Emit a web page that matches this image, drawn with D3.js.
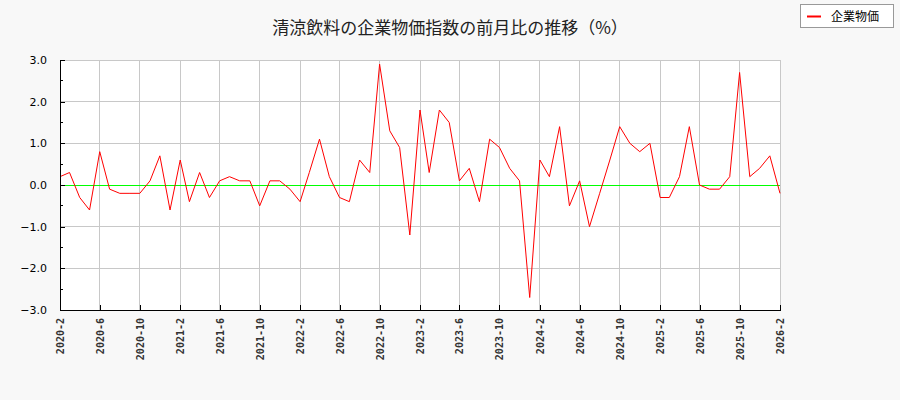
<!DOCTYPE html>
<html>
<head>
<meta charset="utf-8">
<script src="https://cdn.jsdelivr.net/npm/d3@7"></script>
<style>
  body { margin: 0; background: #f8f8f8; }
  svg { display: block; }
</style>
</head>
<body>
<svg width="900" height="400"></svg>
<script>
// data (month-on-month %, 2020-2 .. 2026-2)
const startMonth = '2020-2';
const values = [
  0.2, 0.3, -0.3, -0.6, 0.8, -0.1, -0.2, -0.2, -0.2, 0.1, 0.7, -0.6,
  0.6, -0.4, 0.3, -0.3, 0.1, 0.2, 0.1, 0.1, -0.5, 0.1, 0.1, -0.1,
  -0.4, 0.3, 1.1, 0.2, -0.3, -0.4, 0.6, 0.3, 2.9, 1.3, 0.9, -1.2,
  1.8, 0.3, 1.8, 1.5, 0.1, 0.4, -0.4, 1.1, 0.9, 0.4, 0.1, -2.7,
  0.6, 0.2, 1.4, -0.5, 0.1, -1.0, -0.2, 0.6, 1.4, 1.0, 0.8, 1.0,
  -0.3, -0.3, 0.2, 1.4, 0.0, -0.1, -0.1, 0.2, 2.7, 0.2, 0.4, 0.7,
  -0.2
];
const tickLabels = ['2020-2', '2020-6', '2020-10', '2021-2', '2021-6', '2021-10',
  '2022-2', '2022-6', '2022-10', '2023-2', '2023-6', '2023-10', '2024-2', '2024-6',
  '2024-10', '2025-2', '2025-6', '2025-10', '2026-2'];
const yTicks = [-3, -2, -1, 0, 1, 2, 3];
const yMinorTicks = [-2.5, -1.5, -0.5, 0.5, 1.5, 2.5];
const seriesName = '企業物価';
const title = '清涼飲料の企業物価指数の前月比の推移（%）';

const svg = d3.select('svg');
const width = +svg.attr('width');
const height = +svg.attr('height');
const margin = { top: 60, right: 120, bottom: 90, left: 60 };
const innerWidth = width - margin.left - margin.right;
const innerHeight = height - margin.top - margin.bottom;

const parseMonth = d3.timeParse('%Y-%m');
const toDate = s => parseMonth(s.replace(/-(\d)$/, '-0$1'));
const start = toDate(startMonth);
const data = values.map((v, i) => ({ date: d3.timeMonth.offset(start, i), value: v }));
const fmtMonth = d => `${d.getFullYear()}-${d.getMonth() + 1}`;

const g = svg.append('g')
  .attr('transform', `translate(${margin.left},${margin.top})`);

const xScale = d3.scaleTime()
  .domain(d3.extent(data, d => d.date))
  .range([0, innerWidth]);
const yScale = d3.scaleLinear()
  .domain([-3, 3])
  .range([innerHeight, 0]);

const tickDates = tickLabels.map(toDate);

// plot background
g.append('rect')
  .attr('width', innerWidth).attr('height', innerHeight)
  .attr('fill', '#ffffff');

// grid
g.append('g').selectAll('line').data(tickDates).join('line')
  .attr('x1', d => xScale(d)).attr('x2', d => xScale(d))
  .attr('y1', 0).attr('y2', innerHeight)
  .attr('stroke', '#c8c8c8').attr('stroke-width', 1)
  .attr('shape-rendering', 'crispEdges');
g.append('g').selectAll('line').data(yTicks).join('line')
  .attr('x1', 0).attr('x2', innerWidth)
  .attr('y1', d => yScale(d)).attr('y2', d => yScale(d))
  .attr('stroke', d => d === 0 ? '#00ff00' : '#c8c8c8').attr('stroke-width', 1)
  .attr('shape-rendering', 'crispEdges');

// series line
const line = d3.line()
  .x(d => xScale(d.date))
  .y(d => yScale(d.value));
g.append('path')
  .attr('d', line(data))
  .attr('fill', 'none')
  .attr('stroke', '#ff0000')
  .attr('stroke-width', 1);

// y axis
const yAxis = d3.axisLeft(yScale).tickValues(yTicks).tickFormat(d3.format('.1f')).tickSizeInner(-5).tickSizeOuter(0).tickPadding(13);
const yAxisG = g.append('g').call(yAxis);
yAxisG.select('.domain').attr('stroke', '#000').attr('shape-rendering', 'crispEdges');
yAxisG.selectAll('.tick line').attr('shape-rendering', 'crispEdges');
yAxisG.selectAll('text')
  .attr('font-family', 'DejaVu Sans, sans-serif')
  .attr('font-size', 11)
  .attr('fill', '#000');
g.append('g').selectAll('line').data(yMinorTicks).join('line')
  .attr('x1', 0).attr('x2', 3)
  .attr('y1', d => yScale(d)).attr('y2', d => yScale(d))
  .attr('stroke', '#000')
  .attr('shape-rendering', 'crispEdges');

// x axis, labels turned upright
const xAxis = d3.axisBottom(xScale).tickValues(tickDates).tickFormat(fmtMonth).tickSizeInner(-5).tickSizeOuter(0);
const xAxisG = g.append('g')
  .attr('transform', `translate(0,${innerHeight})`)
  .call(xAxis);
xAxisG.select('.domain').attr('stroke', '#000').attr('shape-rendering', 'crispEdges');
xAxisG.selectAll('.tick line').attr('shape-rendering', 'crispEdges');
xAxisG.selectAll('text')
  .attr('font-family', 'DejaVu Sans Mono, monospace')
  .attr('font-weight', 'bold')
  .attr('font-size', 10)
  .attr('fill', '#333')
  .attr('text-anchor', 'end')
  .attr('dy', '0.35em')
  .attr('x', 0)
  .attr('y', 0)
  .attr('transform', 'translate(0,8) rotate(-90)');

// title
svg.append('text')
  .attr('x', width / 2)
  .attr('y', 34)
  .attr('text-anchor', 'middle')
  .attr('font-family', 'Noto Sans CJK JP, sans-serif')
  .attr('font-size', 17)
  .attr('fill', '#222')
  .text(title);

// legend
const legend = svg.append('g').attr('transform', 'translate(800,4)');
legend.append('rect')
  .attr('x', 0.5).attr('y', 0.5)
  .attr('width', 93).attr('height', 23)
  .attr('fill', '#fff')
  .attr('stroke', '#999');
legend.append('line')
  .attr('x1', 7).attr('x2', 21)
  .attr('y1', 12.5).attr('y2', 12.5)
  .attr('stroke', '#ff0000').attr('stroke-width', 2);
legend.append('text')
  .attr('x', 31).attr('y', 17)
  .attr('font-family', 'Noto Sans CJK JP, sans-serif')
  .attr('font-size', 12)
  .attr('fill', '#000')
  .text(seriesName);
</script>
</body>
</html>
